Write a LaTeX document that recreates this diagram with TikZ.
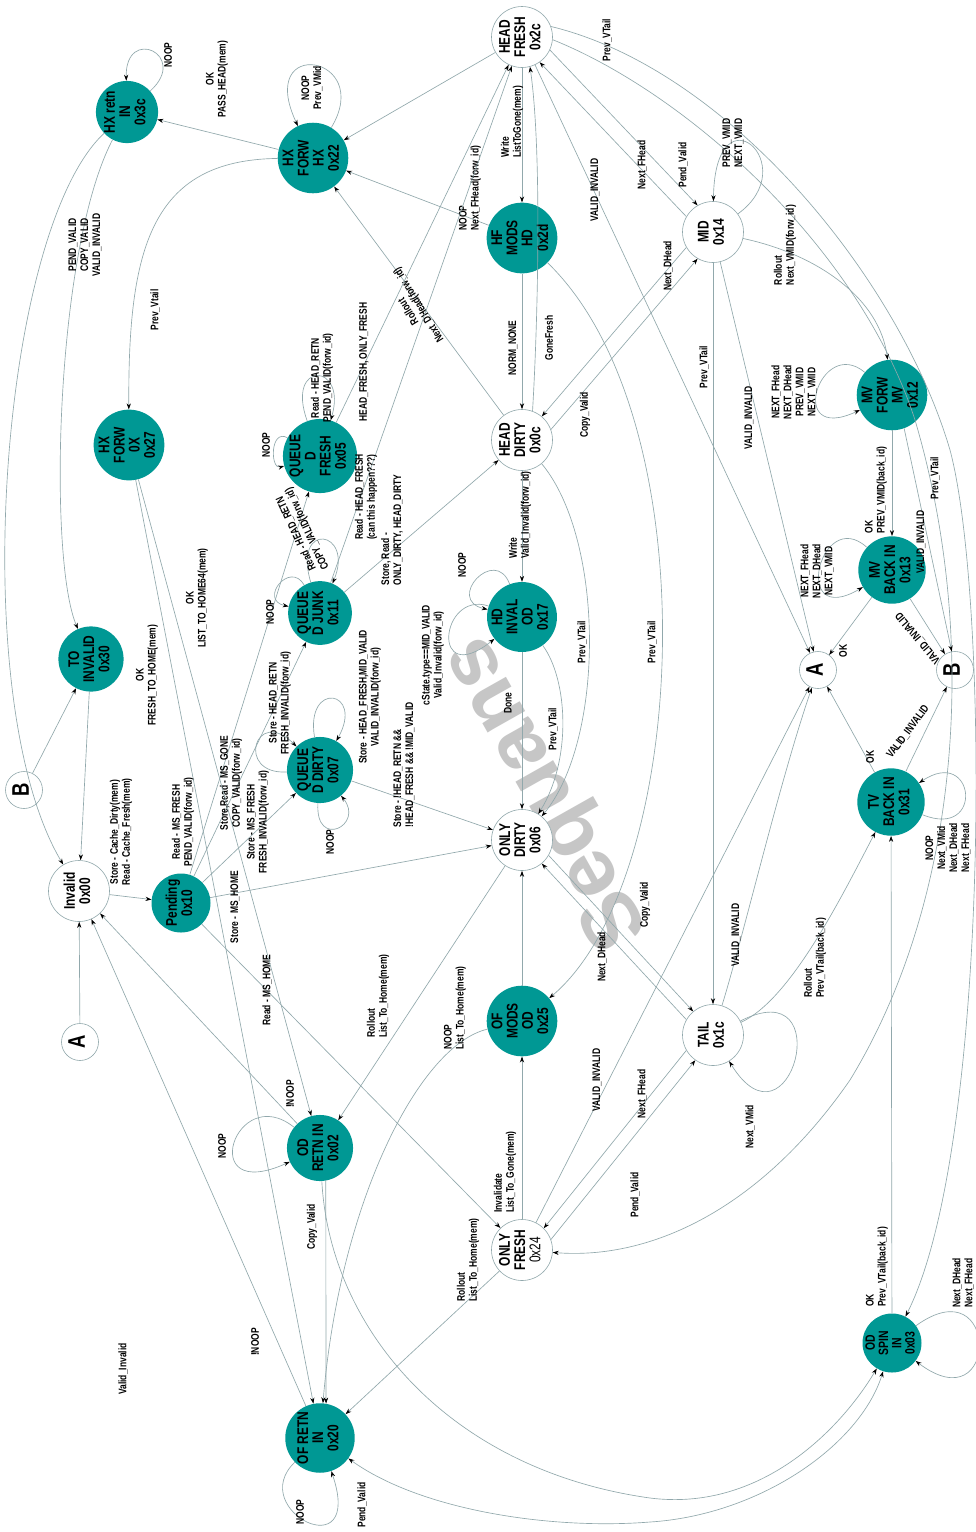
\documentclass[tikz,border=0pt]{standalone}
\usepackage{fontspec}
\usepackage{graphicx}
\setmainfont{Liberation Sans}[FakeStretch=0.77]
\newfontfamily\WmFont{Liberation Sans}
\usetikzlibrary{arrows.meta}
\definecolor{tealfill}{RGB}{0,152,148}
\definecolor{edgegray}{RGB}{145,168,172}
\definecolor{wmgray}{RGB}{198,198,198}
\newcommand{\NodeFnt}{\fontsize{15.5}{16}\selectfont\bfseries}
\newcommand{\LabFnt}{\fontsize{11}{12}\selectfont\bfseries}
\newcommand{\BigFnt}{\fontsize{24}{24}\selectfont\bfseries}
\newcommand{\rt}[1]{\rotatebox{90}{\begin{tabular}{@{}c@{}}#1\end{tabular}}}
\renewcommand{\arraystretch}{0.92}
\tikzset{
  tn/.style={circle, fill=tealfill, minimum size=59pt, inner sep=0pt, font=\NodeFnt},
  wn/.style={circle, fill=white, draw=edgegray, line width=0.6pt, minimum size=61pt, inner sep=0pt, font=\NodeFnt},
  sn/.style={circle, fill=white, draw=edgegray, line width=0.6pt, minimum size=37pt, inner sep=0pt, font=\BigFnt},
  e/.style={draw=edgegray, line width=0.65pt, -{Stealth[length=6pt,width=4.2pt,color=black]}},
  eb/.style={draw=edgegray, line width=0.65pt, {Stealth[length=6pt,width=4.2pt,color=black]}-{Stealth[length=6pt,width=4.2pt,color=black]}},
  lbase/.style={font=\LabFnt, align=center, inner sep=0pt},
  lb/.style={lbase, rotate=90},
}
\begin{document}
\begin{tikzpicture}[x=1pt,y=-1pt]
\fill[white] (0,0) rectangle (975,1532);
\useasboundingbox (0,0) rectangle (975,1532);

% company watermark behind the graph
\node[text=wmgray, font=\WmFont\fontsize{82}{82}\selectfont\bfseries, rotate=119.4, inner sep=0pt] (wm) at (548,792) {Sequans};

% ---------- states ----------
\node[tn] (hxr) at (127,112) {\rt{HX retn\\IN\\0x3c}};
\node[tn] (hxf) at (313,158) {\rt{HX\\FORW\\HX\\0x22}};
\node[wn] (hf) at (522,37) {\rt{HEAD\\FRESH\\0x2c}};
\node[tn] (hfm) at (522,238) {\rt{HF\\MODS\\HD\\0x2d}};
\node[wn] (mid) at (713,232) {\rt{MID\\0x14}};
\node[tn] (mvf) at (892,395) {\rt{MV\\FORW\\MV\\0x12}};
\node[tn] (hx0) at (129,445) {\rt{HX\\FORW\\0X\\0x27}};
\node[tn] (qf) at (320,456) {\rt{QUEUE\\D\\FRESH\\0x05}};
\node[wn] (hd) at (522,440) {\rt{HEAD\\DIRTY\\0x0c}};
\node[tn] (mvb) at (892,570) {\rt{MV\\BACK IN\\0x13}};
\node[sn] (aR) at (818,670) {\rt{A}};
\node[sn] (bR) at (955,670) {\rt{B}};
\node[tn] (toi) at (91,659) {\rt{TO\\INVALID\\0x30}};
\node[tn] (qj) at (320,613) {\rt{QUEUE\\D JUNK\\0x11}};
\node[tn] (hdi) at (522,617) {\rt{HD\\INVAL\\OD\\0x17}};
\node[tn] (qd) at (320,770) {\rt{QUEUE\\D DIRTY\\0x07}};
\node[wn] (od) at (522,840) {\rt{ONLY\\DIRTY\\0x06}};
\node[tn] (tvb) at (891,802) {\rt{TV\\BACK IN\\0x31}};
\node[sn] (bL) at (24,790) {\rt{B}};
\node[wn] (inv) at (79,891) {\rt{Invalid\\0x00}};
\node[tn] (pend) at (181,903) {\rt{Pending\\0x10}};
\node[sn] (aL) at (80,1042) {\rt{A}};
\node[tn] (ofm) at (522,1021) {\rt{OF\\MODS\\OD\\0x25}};
\node[wn] (tail) at (713,1035) {\rt{TAIL\\0x1c}};
\node[tn] (odr) at (320,1148) {\rt{OD\\RETN IN\\0x02}};
\node[wn] (of) at (522,1250) {\rt{ONLY\\FRESH\\{\mdseries 0x24}}};
\node[tn] (ofr) at (320,1438) {\rt{OF RETN\\IN\\0x20}};
\node[tn, font=\fontsize{13.5}{14}\selectfont\bfseries] (ods) at (892,1343) {\rt{OD\\SPIN\\IN\\0x03}};

% ---------- upper left ----------
\draw[e] (hxr) .. controls (190,55) and (125,25) .. (hxr);
\node[lb] (l1) at (168,55) {NOOP};
\draw[e] (hxf) -- (hxr);
\node[lb] (l2) at (217,79) {OK\\PASS\_HEAD(mem)};
\draw[e] (hxf) .. controls (375,55) and (255,35) .. (hxf);
\node[lb] (l3) at (312,88) {NOOP\\Prev\_VMid};
\draw[e] (hf) -- (hxf);
\draw[e] (hfm) -- (hxf);
\node[lb,align=left] (l4) at (470,188) {NOOP\\Next\_FHead(forw\_id)};
\draw[e] (hd) -- (hxf);
\node[lbase,rotate=121.6] (l5) at (414,308) {Rollout\\Next\_DHead(forw\_id)};
\draw[e] (hxf) .. controls (150,160) and (128,250) .. (hx0);
\node[lb] (l6) at (155,310) {Prev\_Vtail};
\draw[e] (hxr) .. controls (55,250) and (48,560) .. (toi);
\node[lb] (l7) at (85,245) {PEND\_VALID\\COPY\_VALID\\VALID\_INVALID};
\draw[e] (hxr) .. controls (0,230) and (-35,700) .. (inv);
\draw[e] (toi) -- (inv);
\draw[e] (bL) -- (toi);
\draw[e] (aL) -- (inv);
\draw[e] (inv) -- (pend);
\node[lb] (l8) at (121,832) {Store - Cache\_Dirty(mem)\\Read - Cache\_Fresh(mem)};

% ---------- Pending and the queued states ----------
\draw[e] (pend) -- (qf);
\node[lb] (l9) at (183,822) {Read - MS\_FRESH\\PEND\_VALID(forw\_id)};
\draw[e] (pend) -- (qj);
\node[lb] (l10) at (231,783) {Store,Read - MS\_GONE\\COPY\_VALID(forw\_id)};
\draw[e] (pend) -- (qd);
\node[lb] (l11) at (258,822) {Store - MS\_FRESH\\FRESH\_INVALID(forw\_id)};
\draw[e] (pend) -- (od);
\node[lb] (l12) at (235,907) {Store - MS\_HOME};
\draw[e] (pend) -- (of);
\node[lb] (l13) at (267,990) {Read - MS\_HOME};
\draw[e] (hx0) -- (odr);
\node[lb] (l14) at (197,598) {OK\\LIST\_TO\_HOME64(mem)};
\draw[e] (hx0) -- (ofr);
\node[lb] (l15) at (147,675) {OK\\FRESH\_TO\_HOME(mem)};
\draw[e] (odr) -- (inv);
\node[lb] (l16) at (290,1094) {!NOOP};
\draw[e] (ofr) -- (inv);
\node[lb] (l17) at (255,1342) {!NOOP};
\node[lb] (l18) at (123,1369) {Valid\_Invalid};

\draw[e] (qf) .. controls (270,428) and (270,470) .. (qf);
\node[lb] (l33) at (266,445) {NOOP};
\draw[e] (qf) .. controls (285,360) and (348,362) .. (qf);
\node[lb] (l34) at (322,378) {Read - HEAD\_RETN\\PEND\_VALID(forw\_id)};
\draw[e] (qf) -- (hf);
\node[lb] (l30) at (364,362) {HEAD\_FRESH, ONLY\_FRESH};
\draw[e] (qj) .. controls (290,560) and (258,600) .. (qj);
\node[lb] (l35) at (270,612) {NOOP};
\draw[e] (qj) .. controls (292,520) and (355,530) .. (qj);
\node[lbase,rotate=115] (l36) at (302,531) {Read - HEAD\_RETN\\COPY\_VALID(forw\_id)};
\draw[e] (qj) -- (hf);
\node[lb] (l31) at (366,497) {Read - HEAD\_FRESH\\(can this happen???)};
\draw[e] (qj) -- (hd);
\node[lb,align=left] (l32) at (392,530) {Store, Read -\\ONLY\_DIRTY, HEAD\_DIRTY};
\draw[e] (qd) .. controls (315,850) and (365,825) .. (qd);
\node[lb] (l37) at (330,842) {NOOP};
\draw[e] (qd) .. controls (305,680) and (365,690) .. (qd);
\node[lb] (l38) at (370,697) {Store - HEAD\_FRESH,MID\_VALID\\VALID\_INVALID(forw\_id)};
\draw[e] (qd) .. controls (235,775) and (255,705) .. (qd);
\node[lb] (l39) at (280,703) {Store - HEAD\_RETN\\FRESH\_INVALID(forw\_id)};
\draw[e] (qd) -- (od);
\node[lb,align=left] (l40) at (404,765) {Store - !HEAD\_RETN \&\&\\!HEAD\_FRESH \&\& !MID\_VALID};

% ---------- centre column ----------
\draw[e] (hf) -- (hfm);
\node[lb,align=left] (l28) at (512,122) {Write\\ListToGone(mem)};
\draw[e] (hfm) -- (hd);
\node[lb] (l27) at (513,348) {NORM\_NONE};
\draw[e] (hd.70) .. controls (538,320) and (542,150) .. (hf.-75);
\node[lb] (l29) at (549,338) {GoneFresh};
\draw[e] (hd) -- (hdi);
\node[lb,align=left] (l26) at (520,515) {Write\\Valid\_Invalid(forw\_id)};
\draw[e] (hdi) .. controls (495,545) and (445,600) .. (hdi);
\node[lb] (l41) at (462,565) {NOOP};
\draw[e] (hdi) .. controls (440,590) and (430,690) .. (hdi);
\node[lb] (l42) at (433,655) {cState.type==MID\_VALID\\Valid\_Invalid(forw\_id)};
\draw[e] (hdi) -- (od);
\node[lb] (l25) at (508,703) {Done};
\draw[e] (hdi) .. controls (568,680) and (572,760) .. (od);
\node[lb] (l43) at (553,729) {Prev\_VTail};
\draw[e] (hd) .. controls (605,540) and (605,740) .. (od);
\node[lb] (l44) at (582,642) {Prev\_VTail};
\draw[e] (hfm) .. controls (710,420) and (690,880) .. (ofm);
\node[lb] (l45) at (652,642) {Prev\_VTail};
\draw[e] (ofm) -- (od);
\draw[e] (of) -- (ofm);
\node[lb,align=left] (l24) at (505,1172) {Invalidate\\List\_To\_Gone(mem)};
\draw[e] (od) -- (odr);
\node[lb,align=left] (l22) at (378,996) {Rollout\\List\_To\_Home(mem)};
\draw[e] (ofm) .. controls (420,1045) and (340,1200) .. (ofr);
\node[lb,align=left] (l21) at (455,1008) {NOOP\\List\_To\_Home(mem)};
\draw[e] (of) -- (ofr);
\node[lb,align=left] (l23) at (468,1260) {Rollout\\List\_To\_Home(mem)};

% ---------- lower left ----------
\draw[e] (odr) .. controls (235,1080) and (195,1205) .. (odr);
\node[lb] (l19) at (222,1146) {NOOP};
\draw[e] (odr.-80) -- (ofr.80);
\node[lb] (l20) at (312,1227) {Copy\_Valid};
\draw[e] (ofr) .. controls (245,1510) and (365,1570) .. (ofr);
\node[lb] (l76) at (300,1512) {NOOP};
\draw[e] (odr) .. controls (330,1330) and (450,1470) .. (650,1498) .. controls (760,1512) and (840,1430) .. (ods);
\draw[eb] (ofr) .. controls (420,1510) and (550,1530) .. (650,1522) .. controls (760,1515) and (860,1445) .. (ods);
\node[lb] (l75) at (362,1505) {Pend\_Valid};

% ---------- right half ----------
\draw[e] (hf.-25) -- (mid.120);
\node[lb] (l46) at (683,165) {Pend\_Valid};
\draw[e] (mid.150) -- (hf.-55);
\node[lb] (l47) at (642,165) {Next\_FHead};
\draw[e] (hf) -- (aR);
\node[lb] (l48) at (595,190) {VALID\_INVALID};
\draw[e] (hf.20) .. controls (730,70) and (900,280) .. (950,450) .. controls (990,600) and (990,1150) .. (ods);
\node[lb] (l74) at (607,40) {Prev\_VTail};
\draw[e] (hf.-5) .. controls (690,95) and (860,250) .. (915,420) .. controls (980,640) and (960,900) .. (850,1080) .. controls (760,1210) and (650,1260) .. (of);
\draw[e] (mid) .. controls (805,165) and (715,85) .. (mid);
\node[lb] (l49) at (733,143) {PREV\_VMID\\NEXT\_VMID};
\draw[e] (mid) .. controls (820,255) and (880,300) .. (mvf);
\node[lb,align=left] (l50) at (785,245) {Rollout\\Next\_VMID(forw\_id)};
\draw[e] (hd.20) -- (mid.240);
\node[lb] (l51) at (585,415) {Copy\_Valid};
\draw[e] (mid.210) -- (hd.50);
\node[lb] (l52) at (668,266) {Next\_DHead};
\draw[e] (mid) -- (tail);
\node[lb] (l53) at (704,367) {Prev\_VTail};
\draw[e] (mid) -- (aR);
\node[lb] (l54) at (749,418) {VALID\_INVALID};

\draw[e] (mvf) .. controls (820,335) and (785,445) .. (mvf);
\node[lb] (l55) at (794,392) {NEXT\_FHead\\NEXT\_DHead\\PREV\_VMID\\NEXT\_VMID};
\draw[e] (mvf) -- (mvb);
\node[lb,align=left] (l56) at (876,490) {OK\\PREV\_VMID(back\_id)};
\draw[e] (mvf.-70) -- (bR.100);
\node[lb] (l57) at (921,542) {VALID\_INVALID};
\node[lb] (l57b) at (935,478) {Prev\_VTail};

\draw[e] (mvb) .. controls (820,505) and (790,630) .. (mvb);
\node[lb] (l58) at (817,571) {NEXT\_FHead\\NEXT\_DHead\\NEXT\_VMID};
\draw[e] (mvb) -- (aR);
\node[lb] (l59) at (843,651) {OK};
\draw[e] (mvb) -- (bR);
\node[lbase,rotate=130] (l60) at (918,638) {VALID\_INVALID};

\draw[e] (tvb) -- (aR);
\node[lb] (l61) at (870,757) {OK};
\draw[e] (tvb) -- (bR);
\node[lbase,rotate=53] (l62) at (908,732) {VALID\_INVALID};
\draw[e] (tvb) .. controls (985,840) and (975,745) .. (tvb);
\node[lb] (l63) at (948,848) {NOOP\\Next\_VMid\\Next\_DHead\\Next\_FHead};
\draw[e] (tail) .. controls (790,1000) and (840,900) .. (tvb);
\node[lb,align=left] (l64) at (815,958) {Rollout\\Prev\_VTail(back\_id)};
\draw[e] (ods) -- (tvb);
\node[lb,align=left] (l65) at (877,1267) {OK\\Prev\_VTail(back\_id)};
\draw[e] (ods) .. controls (1000,1265) and (1000,1425) .. (ods);
\node[lb] (l66) at (963,1283) {Next\_DHead\\Next\_FHead};

\draw[e] (tail) .. controls (840,970) and (790,1160) .. (tail);
\node[lb] (l67) at (750,1127) {Next\_VMid};
\draw[e] (tail) .. controls (745,930) and (780,780) .. (aR);
\node[lb] (l68) at (736,935) {VALID\_INVALID};
\draw[e] (of) -- (aR);
\node[lb] (l69) at (597,1080) {VALID\_INVALID};
\draw[e] (od.-30) -- (tail.130);
\node[lb] (l70) at (645,905) {Copy\_Valid};
\draw[e] (tail.150) -- (od.-50);
\node[lb] (l71) at (602,957) {Next\_DHead};
\draw[e] (tail.210) -- (of.45);
\node[lb] (l72) at (642,1094) {Next\_FHead};
\draw[e] (of.20) -- (tail.235);
\node[lb] (l73) at (635,1195) {Pend\_Valid};
\end{tikzpicture}
\end{document}
